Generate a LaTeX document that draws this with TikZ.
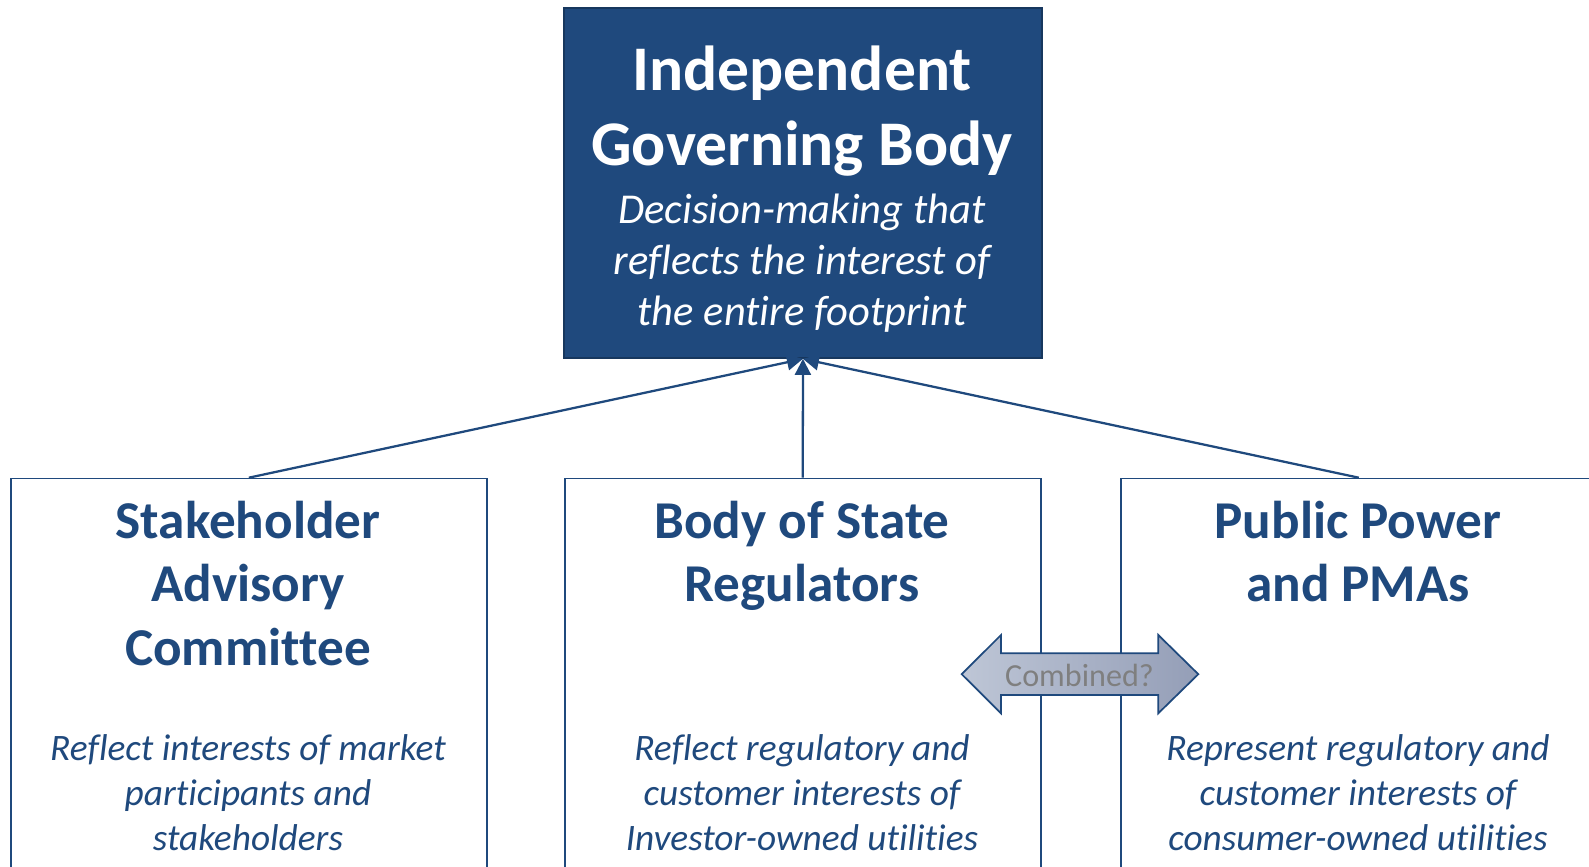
\documentclass[tikz,border=0pt]{standalone}
\usepackage{fontspec}
\setmainfont{Carlito}[Ligatures=NoCommon]
\usetikzlibrary{arrows.meta}
\definecolor{govblue}{HTML}{1F497D}
\definecolor{govedge}{HTML}{17375E}
\definecolor{combgray}{HTML}{7F7F7F}
\definecolor{combleft}{HTML}{BEC6D6}
\definecolor{combright}{HTML}{949EB7}
\tikzset{
  panel/.style={draw=govblue,line width=1.2pt,fill=white,anchor=north west,inner sep=0pt,minimum width=357pt,minimum height=315pt},
  headbox/.style={draw=govedge,line width=1.4pt,fill=govblue,anchor=north west,inner sep=0pt,minimum width=358.5pt,minimum height=262.5pt},
  toptitle/.style={anchor=base,inner sep=0pt,align=center,text=white,font=\fontsize{47.7}{55.5}\selectfont\bfseries},
  topnote/.style={anchor=base,inner sep=0pt,align=center,text=white,font=\fontsize{31.9}{38}\selectfont\itshape},
  paneltitle/.style={anchor=base,inner sep=0pt,align=center,text=govblue,font=\fontsize{39.9}{47.5}\selectfont\bfseries},
  panelnote/.style={anchor=base,inner sep=0pt,align=center,text=govblue,font=\fontsize{28}{33.75}\selectfont\itshape},
  feed/.style={draw=govblue,line width=1.7pt,-{Triangle[length=12pt,width=12pt]}}
}
\begin{document}
\begin{tikzpicture}[x=0.75pt,y=0.75pt,yscale=-1,xscale=1]
\useasboundingbox (0,0) rectangle (1589,867);
\clip (0,0) rectangle (1589,867);

%Boxes
\node[headbox] (igb) at (563,7) {};
\node[panel] (sac) at (10,477.7) {};
\node[panel] (bsr) at (564,477.7) {};
\node[panel] (ppm) at (1120,477.7) {};

%Connectors
\draw[feed] (sac.north) -- (igb.south);
\draw[feed] (bsr.north) -- (igb.south);
\draw[feed] (ppm.north) -- (igb.south);

%Double arrow
\draw[draw=govblue,line width=1.3pt,line join=miter,left color=combleft,right color=combright] (961.7,674.2) -- (1001,635) -- (1001,653.3) -- (1158.3,653.3) -- (1158.3,635) -- (1198.3,674.2) -- (1158.3,713.3) -- (1158.3,695) -- (1001,695) -- (1001,713.3) -- cycle ;

% Text Node
\node[toptitle] (igbname) at (802,165) {Independent\\Governing Body};
% Text Node
\node[topnote] (igbnote) at (802,325) {Decision-making that\\reflects the interest of\\the entire footprint};
% Text Node
\node[paneltitle] (sacname) at (248,665) {Stakeholder\\Advisory\\Committee};
% Text Node
\node[paneltitle] (bsrname) at (802,601.7) {Body of State\\Regulators};
% Text Node
\node[paneltitle] (ppmname) at (1358,601.7) {Public Power\\and PMAs};
% Text Node
\node[panelnote] (sacnote) at (248,850) {Reflect interests of market\\participants and\\stakeholders};
% Text Node
\node[panelnote] (bsrnote) at (802,850) {Reflect regulatory and\\customer interests of\\Investor-owned utilities};
% Text Node
\node[panelnote] (ppmnote) at (1358,850) {Represent regulatory and\\customer interests of\\consumer-owned utilities};
% Text Node
\node[anchor=base,inner sep=0pt,text=combgray,font=\fontsize{24.1}{28}\selectfont] (combtext) at (1079.5,686) {Combined?};

\end{tikzpicture}
\end{document}
